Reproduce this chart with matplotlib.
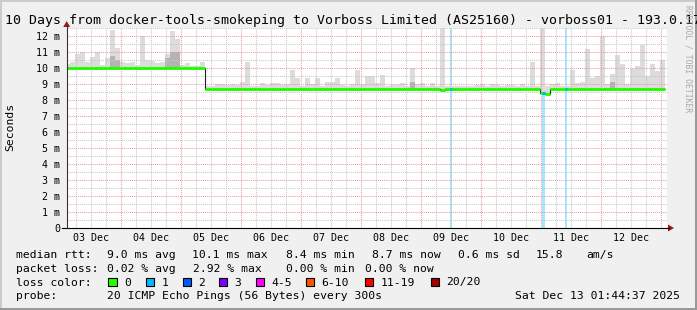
# smokeping 10일 그래프 재현 (rrdtool 스타일)
from datetime import datetime, timedelta

import numpy as np
import matplotlib
matplotlib.use('Agg')
import matplotlib.pyplot as plt
import matplotlib.dates as mdates
from matplotlib.patches import Rectangle, Polygon
from matplotlib.lines import Line2D
from matplotlib.ticker import MultipleLocator, FuncFormatter, NullFormatter

plt.rcParams['font.family'] = ['DejaVu Sans Mono']

W, H = 697, 310

# ── 데이터 (2시간 단위, 단위: ms) ───────────────────────────
first_bin = datetime(2025, 12, 3, 1, 44, 37)
view_start = datetime(2025, 12, 3, 2, 15)
view_days = 10

median = [
    10.0, 10.0, 10.0, 10.0, 10.0, 10.0, 10.0, 10.0, 10.0, 10.0, 10.0, 10.0,
    10.0, 10.0, 10.0, 10.0, 10.0, 10.0, 10.0, 10.0, 10.0, 10.0, 10.0, 10.0,
    10.0, 10.0, 10.0, 10.0, 8.7, 8.7, 8.7, 8.7, 8.7, 8.7, 8.7, 8.7,
    8.7, 8.7, 8.7, 8.7, 8.7, 8.7, 8.7, 8.7, 8.7, 8.7, 8.7, 8.7,
    8.7, 8.7, 8.7, 8.7, 8.7, 8.7, 8.7, 8.7, 8.7, 8.7, 8.7, 8.7,
    8.7, 8.7, 8.7, 8.7, 8.7, 8.7, 8.7, 8.7, 8.7, 8.7, 8.7, 8.7,
    8.7, 8.7, 8.7, 8.62, 8.7, 8.7, 8.7, 8.7, 8.7, 8.7, 8.7, 8.7,
    8.7, 8.7, 8.7, 8.7, 8.7, 8.7, 8.7, 8.7, 8.7, 8.7, 8.7, 8.45,
    8.35, 8.7, 8.7, 8.7, 8.7, 8.7, 8.7, 8.7, 8.7, 8.7, 8.7, 8.7,
    8.7, 8.7, 8.7, 8.7, 8.7, 8.7, 8.7, 8.7, 8.7, 8.7, 8.7, 8.7,
]
smoke_max = [
    10.25, 10.4, 10.9, 11.0, 10.4, 10.7, 11.0, 10.2, 10.65, 12.4, 11.25, 10.4,
    10.3, 10.4, 10.2, 12.0, 10.5, 10.45, 10.3, 10.4, 10.9, 12.3, 11.8, 10.2,
    10.3, 10.15, 10.1, 10.4, 8.85, 8.9, 9.0, 9.0, 8.95, 9.0, 8.95, 9.15,
    10.4, 8.9, 8.9, 9.05, 8.95, 9.05, 9.05, 8.95, 9.0, 9.85, 9.4, 8.9,
    9.4, 9.0, 9.35, 8.9, 9.15, 9.15, 9.35, 8.95, 8.9, 9.0, 9.85, 9.0,
    9.5, 9.5, 9.05, 9.55, 8.9, 8.95, 8.95, 9.05, 8.9, 10.0, 9.0, 9.05,
    8.9, 9.05, 8.9, 12.5, 8.9, 8.9, 8.9, 8.9, 8.9, 8.9, 8.95, 9.0,
    8.9, 9.0, 8.95, 8.9, 8.95, 8.95, 8.9, 9.0, 8.9, 10.4, 8.9, 12.5,
    8.9, 9.0, 9.05, 8.9, 8.9, 9.85, 9.05, 9.15, 11.2, 9.35, 9.5, 12.0,
    9.0, 9.6, 10.8, 10.25, 9.0, 9.95, 10.1, 11.45, 9.5, 10.25, 9.8, 10.5,
]
dark_bins = [9, 10, 20, 21, 22, 69, 109]
dark_top = [10.75, 10.5, 10.6, 11.0, 11.0, 9.1, 9.1]

loss_start = ['2025-12-09 11:36', '2025-12-11 00:12', '2025-12-11 09:36']
loss_end = ['2025-12-09 12:24', '2025-12-11 01:36', '2025-12-11 10:24']
loss_count = [1, 1, 1]

loss_labels = ['0', '1', '2', '3', '4-5', '6-10', '11-19', '20/20']
loss_colors = ['#26ff00', '#00b8ff', '#0059ff', '#7e00ff',
               '#ff00ff', '#ff5500', '#ff0000', '#a10000']

title = ('10 Days from docker-tools-smokeping to Vorboss Limited (AS25160)'
         ' - vorboss01 - 193.0.17')
rtt_stats = [('9.0 ms avg', 107), ('10.1 ms max', 192.5), ('8.4 ms min', 286.5),
             ('8.7 ms now', 372), ('0.6 ms sd', 458), ('15.8', 536), ('am/s', 586)]
loss_stats = [('0.02 % avg', 107), ('2.92 % max', 193), ('0.00 % min', 286),
              ('0.00 % now', 365)]
probe_text = '20 ICMP Echo Pings (56 Bytes) every 300s'
stamp_text = 'Sat Dec 13 01:44:37 2025'

# ── 색상 ────────────────────────────────────────────
BACK = '#f0f0f0'
MGRID = '#eb9c9c'
GRID = '#c8c8c8'
SMOKE = '#dcdcdc'
SMOKE_DARK = '#b4b4b4'
ARROW = '#9b1b1b'
LOSS_BAND = '#a6e6ff'


def fx(x):
    return x / W


def fy(y):
    return 1 - y / H


fig = plt.figure(figsize=(W / 100, H / 100), dpi=100, facecolor=BACK)

ax = fig.add_axes([fx(66.7), fy(228), 600 / W, 200 / H])
ax.set_facecolor('white')
for sp in ax.spines.values():
    sp.set_visible(False)

n = len(median)
edges = mdates.date2num([first_bin + timedelta(hours=2 * i) for i in range(n + 1)])
bw = edges[1] - edges[0]
med = np.array(median)
smax = np.array(smoke_max)

# 손실 배경 띠
for s, e, c in zip(loss_start, loss_end, loss_count):
    ax.axvspan(mdates.datestr2num(s), mdates.datestr2num(e),
               color=LOSS_BAND, lw=0, zorder=0.5)

# 스모크
ax.bar(edges[:-1], smax - med, bottom=med, width=bw, align='edge',
       color=SMOKE, lw=0, zorder=1)
ax.bar(edges[dark_bins], np.array(dark_top) - med[dark_bins], bottom=med[dark_bins],
       width=bw, align='edge', color=SMOKE_DARK, lw=0, zorder=1.1)

# 중앙값: 얇은 검정 계단선 + 손실색 굵은 선
ax.stairs(med, edges, color='#202020', lw=0.8, baseline=None, zorder=3)
ax.hlines(med, edges[:-1], edges[1:], colors=loss_colors[0], lw=2.2, zorder=4)
for s, e, c in zip(loss_start, loss_end, loss_count):
    s_n, e_n = mdates.datestr2num(s), mdates.datestr2num(e)
    i = np.searchsorted(edges, s_n) - 1
    ax.hlines(med[i], s_n, e_n, colors=loss_colors[c], lw=2.2, zorder=4.5)

x0 = mdates.date2num(view_start)
ax.set_xlim(x0, x0 + view_days)
ax.set_ylim(0, 12.5)

# 격자 / 눈금
ax.xaxis.set_major_locator(mdates.DayLocator())
ax.xaxis.set_minor_locator(mdates.HourLocator(byhour=[0, 6, 12, 18]))
ax.xaxis.set_major_formatter(NullFormatter())


def day_label(v, pos):
    if int(round((v % 1) * 24)) == 12:
        return mdates.num2date(v).strftime('%d Dec')
    return ''


ax.xaxis.set_minor_formatter(FuncFormatter(day_label))
ax.yaxis.set_major_locator(MultipleLocator(1))
ax.yaxis.set_minor_locator(MultipleLocator(0.5))
ax.yaxis.set_major_formatter(FuncFormatter(lambda v, p: '0' if v == 0 else f'{v:.0f} m'))
ax.tick_params(which='both', length=0, labelsize=7.2, colors='black')
ax.tick_params(axis='y', pad=4.8)
ax.tick_params(axis='x', pad=3.5)
ax.grid(which='major', color=MGRID, ls=(0, (1, 1)), lw=0.75, zorder=1.5)
ax.grid(which='minor', color=GRID, ls=(0, (1, 1)), lw=0.75, zorder=1.5)
ax.set_axisbelow('line')

# ── 축선과 화살표 ───────────────────────────────────
fig.add_artist(Line2D([fx(62), fx(669)], [fy(228), fy(228)], color='black', lw=0.8))
fig.add_artist(Line2D([fx(66.7), fx(66.7)], [fy(228), fy(25)], color='#333333', lw=0.8))
fig.add_artist(Polygon([(fx(668), fy(224.5)), (fx(668), fy(231.5)), (fx(674), fy(228))],
                       closed=True, color=ARROW, lw=0))
fig.add_artist(Polygon([(fx(63.2), fy(27)), (fx(70.2), fy(27)), (fx(66.7), fy(21))],
                       closed=True, color=ARROW, lw=0))

# ── 테두리 ───────────────────────────────────────────
fig.add_artist(Rectangle((0, 0), fx(2), 1, transform=fig.transFigure, color='#cbcbcb', lw=0))
fig.add_artist(Rectangle((0, fy(2)), 1, 2 / H, transform=fig.transFigure, color='#cbcbcb', lw=0))
fig.add_artist(Rectangle((fx(694.5), 0), 2.5 / W, 1, transform=fig.transFigure, color='#999999', lw=0))
fig.add_artist(Rectangle((0, 0), 1, 2.5 / H, transform=fig.transFigure, color='#999999', lw=0))

# ── 텍스트 ───────────────────────────────────────────
fig.text(fx(5), fy(24), title, fontsize=9.5, va='baseline', ha='left')
fig.text(fx(10.5), fy(127), 'Seconds', fontsize=8.2, rotation=90, ha='center', va='center')
fig.text(fx(688), fy(5), 'RRDTOOL / TOBI OETIKER', fontsize=5.8, color='#a8a8a8',
         rotation=270, ha='center', va='top')

LEG = 8.2
rows = [257.7, 271.6, 285.5, 299.4]
fig.text(fx(16), fy(rows[0]), 'median rtt:', fontsize=LEG, va='baseline')
for s, x in rtt_stats:
    fig.text(fx(x), fy(rows[0]), s, fontsize=LEG, va='baseline')
fig.text(fx(16), fy(rows[1]), 'packet loss:', fontsize=LEG, va='baseline')
for s, x in loss_stats:
    fig.text(fx(x), fy(rows[1]), s, fontsize=LEG, va='baseline')
fig.text(fx(16), fy(rows[2]), 'loss color:', fontsize=LEG, va='baseline')
sq_x = [108.3, 145.7, 182.7, 219, 256, 306, 365, 430.7]
for lbl, col, x in zip(loss_labels, loss_colors, sq_x):
    fig.add_artist(Rectangle((fx(x), fy(286.3)), 8.3 / W, 8.5 / H,
                             transform=fig.transFigure, facecolor=col,
                             edgecolor='black', lw=0.8))
    fig.text(fx(x + 15.5), fy(rows[2]), lbl, fontsize=LEG, va='baseline')
fig.text(fx(16), fy(rows[3]), 'probe:', fontsize=LEG, va='baseline')
fig.text(fx(107), fy(rows[3]), probe_text, fontsize=LEG, va='baseline')
fig.text(fx(680), fy(rows[3]), stamp_text, fontsize=LEG, va='baseline', ha='right')

fig.savefig('out.png', dpi=100, facecolor=BACK)
